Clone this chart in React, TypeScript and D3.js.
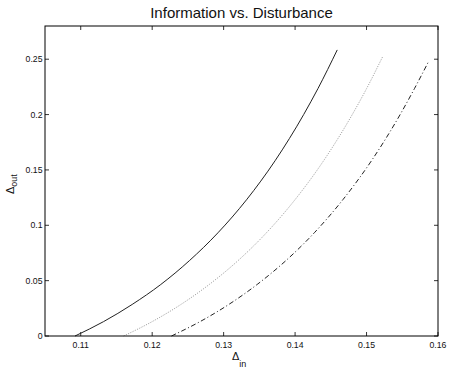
import React from 'react';
import * as d3 from 'd3';

// Δin values and matching Δout values for the three curves
const solidIn = [0.1092, 0.1132, 0.1172, 0.1212, 0.1252, 0.1292, 0.1332, 0.1372, 0.1412, 0.1432, 0.1459];
const solidOut = [0, 0.013, 0.0285, 0.0465, 0.068, 0.0932, 0.123, 0.1583, 0.2, 0.2235, 0.2584];

const dottedIn = [0.116, 0.12, 0.124, 0.128, 0.132, 0.136, 0.14, 0.144, 0.148, 0.15, 0.1523];
const dottedOut = [0, 0.013, 0.0284, 0.0466, 0.068, 0.0933, 0.1232, 0.1584, 0.2, 0.2234, 0.2529];

const dashDotIn = [0.1227, 0.1267, 0.1307, 0.1347, 0.1387, 0.1427, 0.1467, 0.1507, 0.1547, 0.1567, 0.1586];
const dashDotOut = [0, 0.013, 0.0284, 0.0466, 0.068, 0.0933, 0.1232, 0.1584, 0.2, 0.2234, 0.2469];

const xTicks = [0.11, 0.12, 0.13, 0.14, 0.15, 0.16];
const yTicks = [0, 0.05, 0.1, 0.15, 0.2, 0.25];

const W = 450, H = 371;
const margin = { top: 26, right: 12, bottom: 35, left: 45 };

export default function App() {
  const x = d3.scaleLinear().domain([0.105, 0.16]).range([margin.left, W - margin.right]);
  const y = d3.scaleLinear().domain([0, 0.28]).range([H - margin.bottom, margin.top]);

  const line = d3.line<[number, number]>()
    .x(d => x(d[0]))
    .y(d => y(d[1]))
    .curve(d3.curveMonotoneX);

  const zip = (a: number[], b: number[]) => a.map((v, i) => [v, b[i]] as [number, number]);

  const series = [
    { pts: zip(solidIn, solidOut), stroke: '#222', dash: null, w: 1 },
    { pts: zip(dottedIn, dottedOut), stroke: '#9a9a9a', dash: '1.2,1.3', w: 0.9 },
    { pts: zip(dashDotIn, dashDotOut), stroke: '#222', dash: '5,2.5,1,2.5', w: 1 },
  ];

  const x0 = x.range()[0], x1 = x.range()[1];
  const y0 = y.range()[0], y1 = y.range()[1];
  const font = 'Liberation Sans, Arial, Helvetica, sans-serif';
  const tl = 4;

  return (
    <svg width={W} height={H} style={{ position: 'absolute', left: 0, top: 0, background: '#fff' }}
      fontFamily={font}>
      <rect x={0} y={0} width={W} height={H} fill="#fff" />
      <text x={(x0 + x1) / 2} y={17.5} fontSize={15} textAnchor="middle" fill="#111">
        Information vs. Disturbance
      </text>

      {/* ticks */}
      {xTicks.map(t => (
        <g key={'x' + t}>
          <line x1={x(t)} x2={x(t)} y1={y0} y2={y0 - tl} stroke="#000" strokeWidth={0.8} />
          <line x1={x(t)} x2={x(t)} y1={y1} y2={y1 + tl} stroke="#000" strokeWidth={0.8} />
          <text x={x(t)} y={y0 + 11.5} fontSize={8.7} textAnchor="middle" fill="#111">
            {d3.format('.2f')(t)}
          </text>
        </g>
      ))}
      {yTicks.map(t => (
        <g key={'y' + t}>
          <line x1={x0} x2={x0 + tl} y1={y(t)} y2={y(t)} stroke="#000" strokeWidth={0.8} />
          <line x1={x1} x2={x1 - tl} y1={y(t)} y2={y(t)} stroke="#000" strokeWidth={0.8} />
          <text x={x0 - 2.5} y={y(t) + 3} fontSize={8.7} textAnchor="end" fill="#111">
            {t === 0 ? '0' : String(t)}
          </text>
        </g>
      ))}

      {series.map((s, i) => (
        <path key={i} d={line(s.pts) || ''} fill="none" stroke={s.stroke}
          strokeWidth={s.w} strokeDasharray={s.dash || undefined} />
      ))}

      <rect x={x0} y={y1} width={x1 - x0} height={y0 - y1} fill="none" stroke="#000" strokeWidth={1} />

      {/* axis labels */}
      <text x={232} y={360} fontSize={11} fill="#111">
        Δ<tspan fontSize={9} dy={6.5}>in</tspan>
      </text>
      <text transform="translate(13.5,194) rotate(-90)" fontSize={11} fill="#111">
        Δ<tspan fontSize={9} dy={3}>out</tspan>
      </text>
    </svg>
  );
}
